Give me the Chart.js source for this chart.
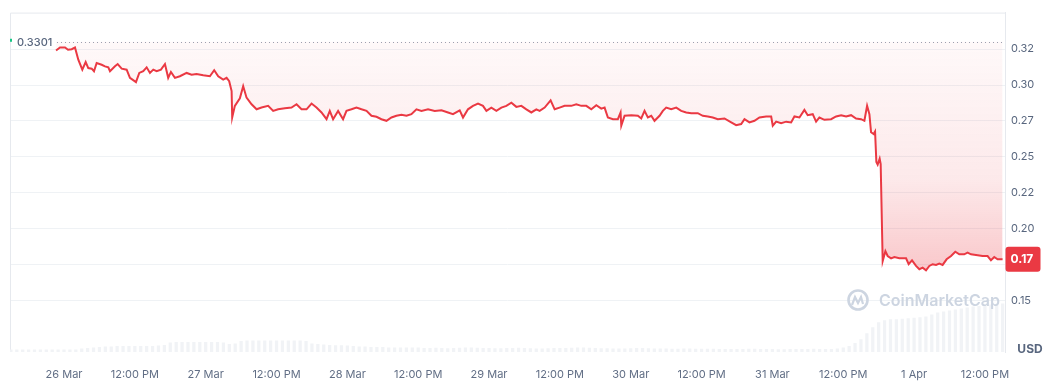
<!DOCTYPE html>
<html>
<head>
<meta charset="utf-8">
<title>Precio</title>
<script src="https://cdn.jsdelivr.net/npm/chart.js@4.4.1/dist/chart.umd.min.js"></script>
<style>
  html, body { margin: 0; padding: 0; background: #fff; }
  #wrap { width: 1048px; height: 382px; position: relative; }
</style>
</head>
<body>
<div id="wrap"><canvas id="chartPrecio"></canvas></div>
<script>
// hours counted from 26 Mar 00:00
const basePrice = 0.3301
const lastPriceLabel = '0.17'

const xTickHours = [0, 12, 24, 36, 48, 60, 72, 84, 96, 108, 120, 132, 144, 156]
const xTickLabels = ['26 Mar', '12:00 PM', '27 Mar', '12:00 PM', '28 Mar', '12:00 PM', '29 Mar',
    '12:00 PM', '30 Mar', '12:00 PM', '31 Mar', '12:00 PM', '1 Apr', '12:00 PM']

const yTickValues = [0.15, 0.175, 0.2, 0.225, 0.25, 0.275, 0.3, 0.325]
const yTickLabels = ['0.15', '0.17', '0.20', '0.22', '0.25', '0.27', '0.30', '0.32']

const priceHours = [
    -1.35, -0.68, 0.17, 0.68, 1.30, 1.86, 2.42, 3.10, 3.67, 4.11, 4.69, 5.08, 5.53, 6.38, 6.94, 7.50, 7.79,
    8.63, 9.09, 9.77, 10.61, 11.17, 12.19, 12.75, 13.42, 14.00, 14.56, 15.12, 15.69, 16.42, 17.10, 17.65,
    18.11, 18.79, 19.63, 20.77, 21.61, 22.46, 23.58, 24.71, 25.44, 26.12, 26.96, 27.54, 27.98, 28.39, 28.49,
    28.94, 29.79, 30.35, 30.92, 31.77, 32.62, 33.46, 34.58, 35.43, 36.27, 37.41, 38.54, 39.39, 40.23, 41.08,
    41.93, 42.77, 43.62, 44.47, 45.02, 45.58, 46.43, 47.27, 47.85, 48.70, 49.54, 50.39, 51.24, 52.08, 52.93,
    53.77, 54.62, 55.47, 56.31, 57.16, 58.01, 58.85, 59.70, 60.55, 61.66, 62.80, 63.93, 65.05, 65.89, 67.03,
    67.59, 68.43, 69.28, 70.13, 70.97, 71.55, 72.39, 73.24, 74.09, 74.93, 75.78, 76.62, 77.47, 78.32, 79.16,
    80.01, 80.57, 81.42, 82.43, 83.11, 83.95, 84.80, 85.93, 86.78, 87.63, 88.47, 89.32, 90.17, 91.01, 91.57,
    92.13, 92.98, 93.82, 94.28, 94.40, 94.96, 96.09, 97.21, 97.78, 98.34, 98.90, 99.48, 100.03, 100.88,
    101.44, 102.01, 102.86, 103.71, 104.55, 105.40, 106.25, 107.36, 108.21, 109.06, 109.90, 110.75, 111.88,
    113.02, 113.86, 114.71, 115.27, 116.11, 116.96, 117.81, 118.94, 119.79, 120.06, 120.64, 121.48, 122.33,
    123.17, 123.73, 124.58, 125.42, 125.98, 126.83, 127.40, 127.96, 128.81, 129.94, 130.79, 131.64, 132.48,
    133.33, 134.17, 135.02, 135.58, 136.04, 136.43, 136.71, 137.15, 137.39, 137.61, 137.83, 138.17, 138.34,
    138.68, 139.14, 139.52, 140.10, 140.66, 141.50, 142.64, 143.08, 143.65, 144.33, 144.89, 145.45, 146.02,
    146.58, 147.14, 147.72, 148.27, 148.83, 149.51, 150.26, 150.98, 151.66, 152.50, 153.06, 153.64, 154.49,
    155.60, 156.45, 157.02, 157.58, 158.14, 158.99
]
const prices = [
    0.3240, 0.3261, 0.3261, 0.3245, 0.3249, 0.3261, 0.3176, 0.3107, 0.3160, 0.3118, 0.3114, 0.3096, 0.3153,
    0.3141, 0.3130, 0.3123, 0.3096, 0.3130, 0.3146, 0.3114, 0.3107, 0.3050, 0.3020, 0.3084, 0.3096, 0.3123,
    0.3084, 0.3107, 0.3096, 0.3107, 0.3146, 0.3050, 0.3091, 0.3050, 0.3061, 0.3084, 0.3072, 0.3077, 0.3068,
    0.3061, 0.3103, 0.3061, 0.3038, 0.3050, 0.3027, 0.2958, 0.2774, 0.2855, 0.2907, 0.2992, 0.2912, 0.2866,
    0.2831, 0.2843, 0.2855, 0.2820, 0.2831, 0.2838, 0.2843, 0.2866, 0.2831, 0.2831, 0.2871, 0.2843, 0.2809,
    0.2762, 0.2820, 0.2762, 0.2820, 0.2762, 0.2820, 0.2831, 0.2843, 0.2831, 0.2820, 0.2786, 0.2779, 0.2762,
    0.2751, 0.2774, 0.2786, 0.2793, 0.2786, 0.2797, 0.2831, 0.2820, 0.2831, 0.2820, 0.2824, 0.2809, 0.2797,
    0.2824, 0.2774, 0.2831, 0.2855, 0.2871, 0.2855, 0.2820, 0.2843, 0.2820, 0.2843, 0.2855, 0.2877, 0.2848,
    0.2855, 0.2831, 0.2809, 0.2831, 0.2820, 0.2843, 0.2893, 0.2831, 0.2843, 0.2855, 0.2855, 0.2866, 0.2855,
    0.2855, 0.2831, 0.2859, 0.2836, 0.2843, 0.2774, 0.2762, 0.2762, 0.2809, 0.2717, 0.2786, 0.2790, 0.2786,
    0.2767, 0.2820, 0.2774, 0.2786, 0.2751, 0.2786, 0.2820, 0.2843, 0.2831, 0.2843, 0.2820, 0.2809, 0.2804,
    0.2804, 0.2786, 0.2781, 0.2774, 0.2762, 0.2767, 0.2740, 0.2721, 0.2728, 0.2762, 0.2740, 0.2751, 0.2774,
    0.2781, 0.2781, 0.2717, 0.2745, 0.2735, 0.2745, 0.2740, 0.2781, 0.2774, 0.2827, 0.2790, 0.2797, 0.2745,
    0.2774, 0.2758, 0.2762, 0.2781, 0.2790, 0.2781, 0.2790, 0.2767, 0.2762, 0.2751, 0.2855, 0.2797, 0.2671,
    0.2659, 0.2676, 0.2464, 0.2446, 0.2487, 0.2450, 0.1775, 0.1844, 0.1810, 0.1794, 0.1803, 0.1794, 0.1794,
    0.1753, 0.1780, 0.1741, 0.1718, 0.1729, 0.1711, 0.1741, 0.1753, 0.1748, 0.1757, 0.1748, 0.1787, 0.1810,
    0.1840, 0.1822, 0.1822, 0.1833, 0.1822, 0.1817, 0.1810, 0.1810, 0.1780, 0.1803, 0.1787, 0.1787
]

// hourly volume (millions), first bar at hour -9
const volumeStartHour = -9
const volumes = [
    0.25, 0.25, 0.25, 0.25, 0.25, 0.25, 0.25, 0.25, 0.25, 0.25, 0.25, 0.25,
    0.35, 0.4, 0.45, 0.5,
    0.55, 0.55, 0.6, 0.6, 0.6, 0.6, 0.6, 0.6, 0.6, 0.65, 0.7,
    0.95, 1.0, 1.0, 1.0, 1.0, 1.0, 1.0, 1.0, 1.0, 0.95,
    0.8, 0.85,
    1.1, 1.15, 1.15, 1.17, 1.17, 1.17, 1.17, 1.17, 1.15, 1.15, 1.15, 1.1,
    0.85, 0.8, 0.75,
    0.7, 0.67, 0.67, 0.65,
    0.6, 0.55, 0.55, 0.5, 0.5, 0.5, 0.45, 0.45, 0.45, 0.45, 0.45, 0.45,
    0.4, 0.4, 0.42, 0.4, 0.38, 0.4, 0.42, 0.45, 0.45, 0.42, 0.4, 0.4,
    0.38, 0.38, 0.4, 0.4, 0.42, 0.4, 0.38, 0.35, 0.35, 0.38, 0.4, 0.4,
    0.4, 0.42, 0.45, 0.45, 0.42, 0.4, 0.38, 0.38, 0.35, 0.35, 0.35, 0.38,
    0.4, 0.4, 0.38, 0.35, 0.35, 0.35, 0.33, 0.33, 0.35, 0.35, 0.33, 0.33,
    0.32, 0.32, 0.3, 0.3, 0.3, 0.3, 0.3, 0.32, 0.32, 0.3, 0.3, 0.3, 0.28, 0.28, 0.3, 0.3, 0.3, 0.3, 0.32, 0.3, 0.3, 0.3,
    0.35, 0.45, 0.6, 0.9, 1.3, 1.9,
    2.5, 3.0, 3.2,
    3.3, 3.3, 3.35, 3.4, 3.45, 3.5, 3.6, 3.8, 4.0, 4.1, 4.2, 4.3, 4.4, 4.5, 4.6, 4.65, 4.7, 4.8, 4.85, 4.9
]

const rojo = '#ea3943'
const grisTexto = '#58667e'
const grisLinea = '#eff2f5'

const puntosPrecio = priceHours.map((h, i) => ({ x: h, y: prices[i] }))
const puntosVolumen = volumes.map((v, i) => ({ x: volumeStartHour + i, y: v }))

const rellenoPrecio = (ctx) => {
    const chart = ctx.chart
    if (!chart.chartArea) return 'rgba(234,57,67,0.1)'
    const y0 = chart.scales.y.getPixelForValue(basePrice)
    const y1 = chart.scales.y.getPixelForValue(Math.min(...prices))
    const g = chart.ctx.createLinearGradient(0, y0, 0, y1)
    g.addColorStop(0, 'rgba(234,57,67,0.03)')
    g.addColorStop(0.6, 'rgba(234,57,67,0.11)')
    g.addColorStop(1, 'rgba(234,57,67,0.28)')
    return g
}

const pluginDecoracion = {
    id: 'decoracion',
    beforeDatasetsDraw(chart) {
        const { ctx, chartArea, scales } = chart
        ctx.save()
        // marco
        ctx.strokeStyle = '#e6e9ee'
        ctx.lineWidth = 1
        ctx.beginPath()
        ctx.moveTo(chartArea.left + 0.5, chartArea.bottom)
        ctx.lineTo(chartArea.left + 0.5, chartArea.top + 0.5)
        ctx.lineTo(chartArea.right, chartArea.top + 0.5)
        ctx.stroke()

        // linea base punteada
        const yb = Math.round(scales.y.getPixelForValue(basePrice)) + 0.5
        ctx.strokeStyle = '#9aa3b2'
        ctx.lineWidth = 1
        ctx.setLineDash([1, 3])
        ctx.beginPath()
        ctx.moveTo(57, yb)
        ctx.lineTo(chartArea.right, yb)
        ctx.stroke()
        ctx.restore()
    },
    afterDatasetsDraw(chart) {
        const { ctx, chartArea, scales } = chart
        ctx.save()

        // marca de agua
        const cx = 858, cy = 300
        ctx.strokeStyle = '#cdd5e1'
        ctx.lineWidth = 2.6
        ctx.beginPath()
        ctx.arc(cx, cy, 9.5, 0, Math.PI * 2)
        ctx.stroke()
        ctx.lineWidth = 2.2
        ctx.beginPath()
        ctx.moveTo(cx - 6, cy + 5)
        ctx.lineTo(cx - 3, cy - 3)
        ctx.lineTo(cx, cy + 3)
        ctx.lineTo(cx + 3, cy - 3)
        ctx.lineTo(cx + 5, cy + 4)
        ctx.stroke()
        ctx.fillStyle = '#cdd5e1'
        ctx.font = '600 16px Inter'
        ctx.textAlign = 'left'
        ctx.textBaseline = 'middle'
        ctx.fillText('CoinMarketCap', cx + 21, cy + 1)

        const yb = scales.y.getPixelForValue(basePrice)
        ctx.fillStyle = '#fff'
        ctx.fillRect(chartArea.left + 2, yb - 7, 44, 14)
        ctx.fillStyle = '#16c784'
        ctx.fillRect(chartArea.left, yb - 3, 2, 3)
        ctx.fillStyle = grisTexto
        ctx.font = '500 11px Inter'
        ctx.textBaseline = 'middle'
        ctx.textAlign = 'left'
        ctx.fillText(basePrice.toFixed(4), chartArea.left + 7, yb + 0.5)

        // etiqueta ultimo precio
        const yl = scales.y.getPixelForValue(prices[prices.length - 1])
        const x0 = chartArea.right + 0.5
        ctx.fillStyle = rojo
        ctx.beginPath()
        ctx.roundRect(x0, yl - 12.5, 35, 25, 3)
        ctx.fill()
        ctx.fillStyle = '#fff'
        ctx.font = 'bold 12px Inter'
        ctx.fillText(lastPriceLabel, x0 + 5, yl + 0.5)

        // unidad
        ctx.fillStyle = grisTexto
        ctx.font = 'bold 12px Inter'
        ctx.textAlign = 'center'
        ctx.fillText('USD', 1030, 349)
        ctx.restore()
    }
}

const canvas = document.getElementById('chartPrecio')
const context = canvas.getContext('2d')

const chartPrecio = new Chart(context, {
    data: {
        datasets: [
            {
                type: 'line',
                label: 'Precio',
                data: puntosPrecio,
                borderColor: rojo,
                borderWidth: 2,
                pointRadius: 0,
                tension: 0,
                fill: { value: basePrice },
                backgroundColor: rellenoPrecio,
                yAxisID: 'y',
                order: 0
            },
            {
                type: 'bar',
                label: 'Volumen',
                data: puntosVolumen,
                backgroundColor: '#f1f3f6',
                barPercentage: 0.55,
                categoryPercentage: 1,
                yAxisID: 'vol',
                order: 1
            }
        ]
    },
    options: {
        responsive: true,
        maintainAspectRatio: false,
        animation: false,
        layout: { padding: { left: 10, top: 9, right: 0, bottom: 0 } },
        plugins: {
            legend: { display: false },
            tooltip: { enabled: false }
        },
        scales: {
            x: {
                type: 'linear',
                min: -9.15,
                max: 159.4,
                offset: false,
                grid: { display: false, offset: false },
                border: { display: false },
                afterBuildTicks: (scale) => {
                    scale.ticks = xTickHours.map(v => ({ value: v }))
                },
                afterFit: (scale) => { scale.height = 30 },
                ticks: {
                    autoSkip: false,
                    maxRotation: 0,
                    padding: 8,
                    color: '#616e85',
                    font: { family: 'Inter', size: 11 },
                    callback: (value) => xTickLabels[xTickHours.indexOf(value)]
                }
            },
            y: {
                position: 'right',
                min: 0.1142,
                max: 0.3504,
                grid: { color: grisLinea, drawTicks: false },
                border: { display: true, color: '#e6e9ee' },
                afterBuildTicks: (scale) => {
                    scale.ticks = yTickValues.map(v => ({ value: v }))
                },
                afterFit: (scale) => { scale.width = 43 },
                ticks: {
                    padding: 6,
                    color: grisTexto,
                    font: { family: 'Inter', size: 11 },
                    callback: (value) => yTickLabels[yTickValues.indexOf(value)]
                }
            },
            vol: {
                display: false,
                min: 0,
                max: 34.3
            }
        }
    },
    plugins: [pluginDecoracion]
})
</script>
</body>
</html>
